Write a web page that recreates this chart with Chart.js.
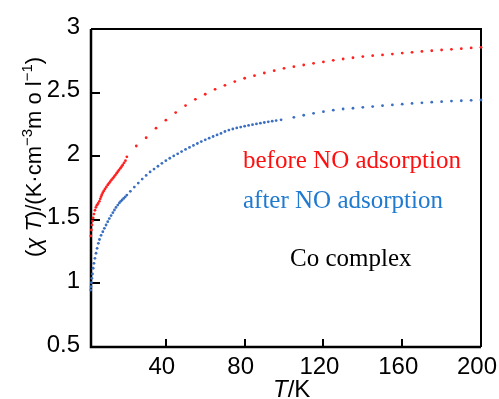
<!DOCTYPE html>
<html>
<head>
<meta charset="utf-8">
<script src="https://cdn.jsdelivr.net/npm/chart.js@4.4.0/dist/chart.umd.min.js"></script>
<style>
  html, body { margin: 0; padding: 0; background: #fff; }
</style>
</head>
<body>
<canvas id="chiChart" width="499" height="399"></canvas>
<script>
// ---------------- DATA ----------------
const beforeT = [
  1.9, 2.2, 2.5, 2.8, 3.1, 3.5, 4.0, 4.5, 5.0, 5.6, 6.25, 6.7, 7.1, 7.5, 8.0, 8.5, 9.1, 9.8,
  10.5, 11.1, 11.7, 12.4, 13.1, 13.7, 14.4, 15.0, 15.6, 16.2, 16.9, 17.5, 18.1, 18.8, 19.5, 20.2,
  25, 30, 35, 40, 45, 50, 55, 60, 65, 70, 75, 80, 85, 90, 95, 100,
  105, 110, 115, 120, 125, 130, 135, 140, 145, 150, 155, 160, 165, 170, 175, 180, 185, 190, 195, 200
];
const beforeChiT = [
  1.373, 1.42, 1.46, 1.49, 1.515, 1.545, 1.575, 1.598, 1.615, 1.628, 1.645, 1.665, 1.682, 1.697, 1.713, 1.727, 1.742, 1.758,
  1.774, 1.787, 1.80, 1.813, 1.826, 1.839, 1.852, 1.865, 1.878, 1.891, 1.905, 1.918, 1.931, 1.948, 1.965, 1.995,
  2.08, 2.145, 2.22, 2.283, 2.343, 2.398, 2.447, 2.487, 2.526, 2.557, 2.587, 2.613, 2.633, 2.654, 2.672, 2.691,
  2.704, 2.717, 2.730, 2.741, 2.754, 2.764, 2.774, 2.783, 2.790, 2.796, 2.803, 2.811, 2.817, 2.824, 2.829, 2.835, 2.840, 2.845, 2.851, 2.856
];

const afterT = [
  1.7, 1.85, 2.0, 2.2, 2.45, 2.75, 3.1, 3.5, 4.0, 4.55, 5.1, 5.75, 6.3, 7.1, 8.0, 8.8, 9.65,
  10.5, 11.3, 12.2, 13.1, 13.9, 14.7, 15.6, 16.4, 17.1, 17.8, 18.6, 19.4, 20.2,
  22, 24, 26, 28, 30, 32, 34, 36, 38, 40, 42, 44, 46, 48, 50, 52, 54, 56, 58, 60,
  62, 64, 66, 68, 70, 72, 74, 76, 78, 80, 82, 84, 86, 88, 90, 92, 94, 96, 98.5,
  105, 110, 115, 120, 125, 130, 135, 140, 145, 150, 155, 160, 165, 170, 175, 180, 185, 190, 195, 200
];
const afterChiT = [
  0.922, 0.948, 0.974, 1.005, 1.04, 1.074, 1.119, 1.158, 1.197, 1.237, 1.276, 1.315, 1.345, 1.378, 1.406, 1.433, 1.459,
  1.485, 1.51, 1.533, 1.556, 1.577, 1.597, 1.616, 1.633, 1.645, 1.656, 1.668, 1.681, 1.694,
  1.724, 1.757, 1.789, 1.82, 1.849, 1.876, 1.899, 1.921, 1.944, 1.965, 1.984, 2.002, 2.019, 2.036, 2.053, 2.069, 2.085, 2.1, 2.115, 2.129,
  2.142, 2.155, 2.167, 2.179, 2.194, 2.205, 2.214, 2.222, 2.229, 2.236, 2.242, 2.248, 2.254, 2.26, 2.265, 2.27, 2.275, 2.28, 2.286,
  2.306, 2.322, 2.337, 2.35, 2.362, 2.371, 2.377, 2.384, 2.39, 2.397, 2.403, 2.409, 2.415, 2.42, 2.425, 2.429, 2.433, 2.436, 2.439, 2.442
];

const xTickValues = [40, 80, 120, 160, 200];
const yTickValues = [0.5, 1, 1.5, 2, 2.5, 3];

const toPoints = (xs, ys) => xs.map((x, i) => ({ x: x, y: ys[i] }));

// ---------------- PLUGINS ----------------
const framePlugin = {
  id: "frame",
  beforeDatasetsDraw(chart) {
    const { ctx, chartArea: a, scales } = chart;
    ctx.save();
    ctx.strokeStyle = "#000";
    ctx.lineWidth = 2;
    ctx.beginPath();
    ctx.moveTo(a.left, a.top);
    ctx.lineTo(a.right, a.top);
    ctx.lineTo(a.right, a.bottom);
    ctx.stroke();
    ctx.lineWidth = 2.5;
    ctx.beginPath();
    ctx.moveTo(a.left, a.top);
    ctx.lineTo(a.left, a.bottom);
    ctx.lineTo(a.right, a.bottom);
    ctx.stroke();
    // inward tick marks
    ctx.lineWidth = 2;
    ctx.beginPath();
    scales.x.ticks.forEach(t => {
      const px = Math.round(scales.x.getPixelForValue(t.value));
      ctx.moveTo(px, a.bottom);
      ctx.lineTo(px, a.bottom - 8);
    });
    scales.y.ticks.forEach(t => {
      const py = Math.round(scales.y.getPixelForValue(t.value));
      ctx.moveTo(a.left, py);
      ctx.lineTo(a.left + 9, py);
    });
    ctx.stroke();
    ctx.restore();
  }
};

const textPlugin = {
  id: "texts",
  afterDraw(chart) {
    const ctx = chart.ctx;
    ctx.save();
    ctx.textBaseline = "alphabetic";
    ctx.textAlign = "left";

    // annotations
    ctx.font = "25px 'Liberation Serif', 'Times New Roman', serif";
    ctx.fillStyle = "#ff1010";
    ctx.fillText("before NO adsorption", 243, 168);
    ctx.fillStyle = "#1f7ad0";
    ctx.fillText("after NO adsorption", 243, 208);
    ctx.fillStyle = "#000";
    ctx.fillText("Co complex", 290, 266);

    // x title
    let x = 273;
    ctx.font = "italic 24px 'Liberation Sans', Arial, sans-serif";
    ctx.fillText("T", x, 397);
    x += ctx.measureText("T").width;
    ctx.font = "24px 'Liberation Sans', Arial, sans-serif";
    ctx.fillText("/K", x, 397);

    // y title (rotated)
    ctx.translate(41, 257);
    ctx.rotate(-Math.PI / 2);
    const normal = "22px 'Liberation Sans', Arial, sans-serif";
    const italic = "italic 22px 'Liberation Sans', Arial, sans-serif";
    const small = "15px 'Liberation Sans', Arial, sans-serif";
    const parts = [
      ["(", normal, 0], ["\u03C7", italic, 0], [" ", normal, 0], ["T", italic, 0],
      [")/(K\u00B7cm", normal, 0], ["\u22123", small, -9], ["m o l", normal, 0],
      ["\u22121", small, -9], [")", normal, 0]
    ];
    let px = 0;
    parts.forEach(([s, f, dy]) => {
      ctx.font = f;
      ctx.fillText(s, px, dy);
      px += ctx.measureText(s).width;
    });
    ctx.restore();
  }
};

// ---------------- CHART ----------------
const ctx = document.getElementById("chiChart").getContext("2d");
new Chart(ctx, {
  type: "scatter",
  data: {
    datasets: [
      {
        label: "before NO adsorption",
        data: toPoints(beforeT, beforeChiT),
        backgroundColor: "#ff2020",
        borderWidth: 0,
        pointRadius: 1.4,
        clip: false
      },
      {
        label: "after NO adsorption",
        data: toPoints(afterT, afterChiT),
        backgroundColor: "#3a6fc2",
        borderWidth: 0,
        pointRadius: 1.4,
        clip: false
      }
    ]
  },
  options: {
    responsive: false,
    animation: false,
    devicePixelRatio: 1,
    layout: { padding: { top: 29, right: 18, left: 0, bottom: 0 } },
    plugins: {
      legend: { display: false },
      tooltip: { enabled: false }
    },
    scales: {
      x: {
        type: "linear",
        min: 2,
        max: 200,
        afterBuildTicks: s => { s.ticks = xTickValues.map(v => ({ value: v })); },
        afterFit: s => { s.height = 52; s.paddingLeft = 0; s.paddingRight = 0; },
        grid: { display: false, drawTicks: false },
        border: { display: false },
        ticks: {
          color: "#000",
          font: { family: "'Liberation Sans', Arial, sans-serif", size: 24 },
          padding: 6,
          labelOffset: -4,
          maxRotation: 0,
          callback: v => String(v)
        }
      },
      y: {
        min: 0.5,
        max: 3,
        afterBuildTicks: s => { s.ticks = yTickValues.map(v => ({ value: v })); },
        afterFit: s => { s.width = 91; s.paddingTop = 0; s.paddingBottom = 0; },
        grid: { display: false, drawTicks: false },
        border: { display: false },
        ticks: {
          color: "#000",
          font: { family: "'Liberation Sans', Arial, sans-serif", size: 24 },
          padding: 11,
          labelOffset: -2,
          callback: v => String(v)
        }
      }
    }
  },
  plugins: [framePlugin, textPlugin]
});
</script>
</body>
</html>
